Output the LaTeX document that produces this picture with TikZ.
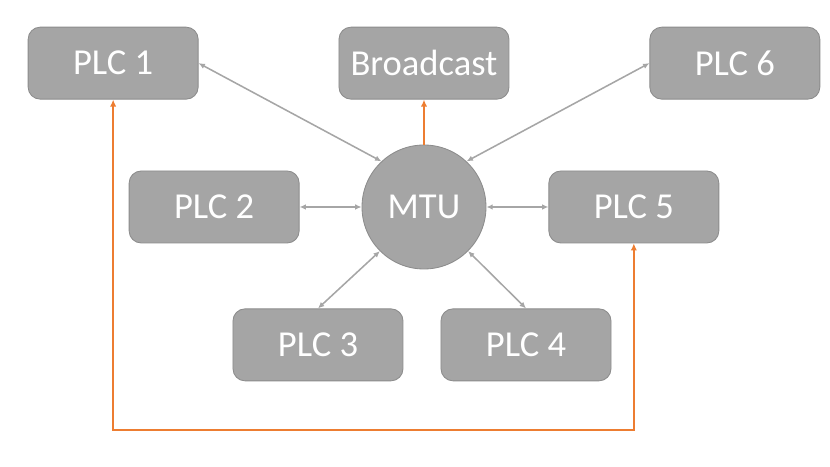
\documentclass[tikz,border=0pt]{standalone}
\usepackage{fontspec}
\setmainfont{Carlito}
\usepackage{tikz}
\usetikzlibrary{arrows.meta, calc, positioning}
\usepackage{xcolor}
\definecolor{boxgray}{HTML}{A5A5A5}
\definecolor{edgegray}{HTML}{8C8C8C}
\definecolor{linkgray}{HTML}{A6A6A6}
\definecolor{busorange}{HTML}{ED7D31}

\begin{document}
\begin{tikzpicture}[
    plcbox/.style={rectangle, draw=edgegray, fill=boxgray, rounded corners=0.3cm, minimum width=4.25cm, minimum height=1.8cm, align=center, text=white, font=\fontsize{26}{30}\selectfont, line width=0.6pt},
    hub/.style={circle, draw=edgegray, fill=boxgray, minimum size=3.1cm, inner sep=0pt, text=white, font=\fontsize{26}{30}\selectfont, line width=0.6pt},
    link/.style={<->, draw=linkgray, line width=1.1pt, >={Latex[length=4.5pt,width=4pt]}},
    busline/.style={draw=busorange, line width=1.5pt, >={Latex[length=5pt,width=4.5pt]}}
]
    \useasboundingbox (-10.6,-6.5) rectangle (10.15,5.175);

    % Zentrale
    \node[hub] (mtu) at (0,0) {MTU};

    % obere Reihe
    \node[plcbox, above=1.125cm of mtu] (broadcast) {Broadcast};
    \node[plcbox, left=3.5cm of broadcast] (plc1) {PLC 1};
    \node[plcbox, right=3.5cm of broadcast] (plc6) {PLC 6};

    % mittlere Reihe
    \node[plcbox, left=1.55cm of mtu] (plc2) {PLC 2};
    \node[plcbox, right=1.55cm of mtu] (plc5) {PLC 5};

    % untere Reihe
    \node[plcbox, below=0.975cm of mtu, xshift=-2.65cm] (plc3) {PLC 3};
    \node[plcbox, below=0.975cm of mtu, xshift=2.55cm] (plc4) {PLC 4};

    % Verbindungen
    \draw[link] (plc1.east) -- (mtu.133);
    \draw[link] (plc6.west) -- (mtu.47);
    \draw[link] (plc2) -- (mtu);
    \draw[link] (plc5) -- (mtu);
    \draw[link] (plc3.north) -- (mtu.225);
    \draw[link] (plc4.north) -- (mtu.-45);

    % Broadcast und Ringleitung
    \draw[busline, ->] (mtu.north) -- (broadcast.south);
    \coordinate[below=5.575cm of mtu.center] (bus);
    \draw[busline, <->] (plc1.south) |- (bus) -| (plc5.south);
\end{tikzpicture}
\end{document}
